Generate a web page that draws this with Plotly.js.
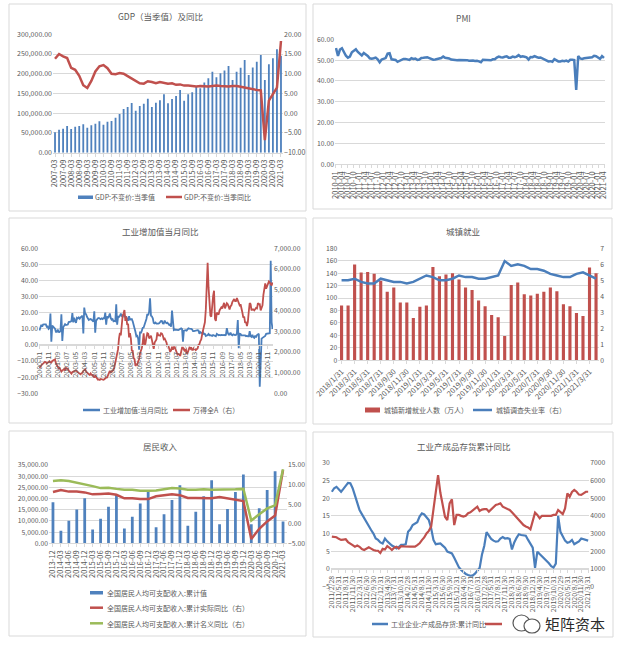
<!DOCTYPE html>
<html><head><meta charset="utf-8">
<script src="https://cdn.plot.ly/plotly-3.0.1.min.js"></script>
<style>html,body{margin:0;padding:0;background:#fff;}#chart{width:624px;height:649px;}</style>
</head><body><div id="chart"></div>
<script>
// ---------- Panel 1: GDP ----------
const gdpValue = [51600, 58400, 60900, 67600, 60000, 66000, 67600, 72000, 63500, 69400, 73600, 79500,
  71000, 78600, 80300, 88800, 98000, 110700, 115800, 126000, 106500, 118400, 124200, 136900,
  115800, 126700, 132800, 148000, 125000, 136000, 143700, 159000, 131800, 148000, 153000, 167000,
  163000, 178000, 188500, 205000, 191000, 201000, 208000, 219700, 184000, 205000, 215000, 235000,
  197000, 216000, 230600, 247600, 184000, 224000, 239000, 262000, 245800];
const gdpYoY = [13.8, 15.0, 14.4, 14.0, 11.5, 11.0, 9.5, 7.1, 6.4, 8.2, 10.6, 11.9,
  12.2, 11.4, 10.0, 9.9, 10.2, 10.0, 9.4, 8.8, 8.1, 7.6, 7.5, 8.1,
  7.9, 7.6, 7.9, 7.7, 7.5, 7.6, 7.2, 7.3, 7.0, 7.0, 6.9, 6.8,
  6.9, 6.8, 6.8, 6.9, 7.0, 6.9, 6.8, 6.8, 6.9, 6.9, 6.7, 6.5,
  6.3, 6.0, 5.9, 5.8, -6.8, 3.2, 4.9, 6.5, 18.3];

// ---------- Panel 2: PMI ----------
const pmi = [55.8, 52.0, 55.1, 55.7, 53.9, 52.1, 51.2, 51.7, 53.8, 54.7, 55.2, 53.9,
  52.9, 52.2, 53.4, 52.9, 52.0, 50.9, 50.7, 50.9, 51.2, 50.4, 49.0, 50.3,
  50.5, 51.0, 53.1, 53.3, 50.4, 50.2, 50.1, 49.2, 49.8, 50.2, 50.6, 50.6,
  50.4, 50.1, 50.9, 50.6, 50.8, 50.1, 50.3, 51.0, 51.1, 51.4, 51.4, 51.0,
  50.5, 50.2, 50.3, 50.4, 50.8, 51.0, 51.7, 51.1, 51.1, 50.8, 50.3, 50.1,
  49.8, 49.9, 50.1, 50.1, 50.2, 50.2, 50.0, 49.7, 49.8, 49.8, 49.6, 49.7,
  49.4, 49.0, 50.2, 50.1, 50.1, 50.0, 49.9, 50.4, 50.4, 51.2, 51.7, 51.4,
  51.3, 51.6, 51.8, 51.2, 51.2, 51.7, 51.4, 51.7, 52.4, 51.6, 51.8, 51.6,
  51.3, 50.3, 51.5, 51.4, 51.9, 51.5, 51.2, 51.3, 50.8, 50.2, 50.0, 49.4,
  49.5, 49.2, 50.5, 50.1, 49.4, 49.4, 49.7, 49.5, 49.8, 49.3, 50.2, 50.2,
  50.0, 35.7, 52.0, 50.8, 50.6, 50.9, 51.1, 51.0, 51.5, 51.4, 52.1, 51.9,
  51.3, 50.6, 51.9, 51.1];

// ---------- Panel 3: industrial value added vs Wind All A ----------
const ivaYoY = [
  9.0, 11.8, 12.5, 11.4, 12.7, 12.8, 12.8, 12.8, 11.3, 11.5, 10.0, 10.5,
  19.5, 2.0, 12.0, 11.5, 10.4, 10.1, 8.1, 8.1, 9.5, 8.1, 8.0, 8.7,
  19.0, 2.5, 10.9, 12.1, 12.9, 12.4, 12.8, 12.7, 14.2, 14.2, 14.5, 14.9,
  19.8, 14.0, 16.9, 14.9, 13.7, 16.9, 16.5, 17.1, 16.3, 17.2, 17.9, 18.1,
  7.2, 23.2, 19.4, 19.1, 17.5, 16.2, 15.5, 15.9, 16.1, 15.7, 14.8, 14.4,
  20.9, 7.6, 15.1, 16.0, 16.6, 16.8, 16.1, 16.0, 16.5, 16.1, 16.6, 16.5,
  20.1, 12.6, 17.8, 16.6, 17.9, 19.5, 16.7, 15.7, 16.1, 14.7, 14.9, 14.7,
  25.3, 12.6, 17.6, 17.4, 18.1, 19.4, 18.0, 17.5, 18.9, 17.9, 17.3, 17.4,
  15.4, 15.4, 17.8, 15.7, 16.0, 16.0, 14.7, 12.8, 11.4, 8.2, 5.4, 5.7,
  3.8, -2.9, 8.3, 7.3, 8.9, 10.7, 10.8, 12.3, 13.9, 16.1, 19.2, 18.5,
  20.7, 29.0, 18.1, 17.8, 16.5, 13.7, 13.4, 13.9, 13.3, 13.1, 13.3, 13.5,
  14.1, 14.9, 14.8, 13.4, 13.3, 15.1, 14.0, 13.5, 13.8, 13.2, 12.4, 12.8,
  11.4, 21.3, 11.9, 9.3, 9.6, 9.5, 9.2, 8.9, 9.2, 9.6, 10.1, 10.3,
  9.9, 2.0, 8.9, 9.3, 9.2, 8.9, 9.7, 10.4, 10.2, 10.3, 10.0, 9.7,
  8.6, 8.6, 8.8, 8.7, 8.8, 9.2, 9.0, 6.9, 8.0, 7.7, 7.2, 7.9,
  6.8, 6.8, 5.6, 5.9, 6.1, 6.8, 6.0, 6.1, 5.7, 5.6, 6.2, 5.9,
  5.4, 5.4, 6.8, 6.0, 6.0, 6.2, 6.0, 6.3, 6.1, 6.1, 6.2, 6.0,
  6.3, 10.5, 7.6, 6.5, 6.5, 7.6, 6.4, 6.0, 6.6, 6.2, 6.1, 6.2,
  7.2, 15.5, -2.0, 7.0, 6.8, 6.0, 6.0, 6.1, 5.8, 5.9, 5.4, 5.7,
  5.3, 5.3, 8.5, 5.4, 5.0, 6.3, 4.8, 4.4, 5.8, 4.7, 6.2, 6.9,
  6.9, -25.9, -1.1, 3.9, 4.4, 4.8, 4.8, 5.6, 6.9, 6.9, 7.0, 7.3,
  7.3, 52.3, 14.1, 9.8];
const windA = [
  1220, 1300, 1380, 1400, 1430, 1460, 1520, 1500, 1450, 1480, 1520, 1540,
  1500, 1480, 1560, 1580, 1620, 1640, 1450, 1380, 1280, 1200, 1230, 1130,
  1050, 1100, 1130, 1180, 1100, 1230, 1200, 1180, 1100, 1050, 1000, 950,
  1030, 1040, 1050, 1080, 1110, 1030, 1020, 980, 930, 920, 970, 990,
  1080, 1150, 1160, 1050, 1000, 930, 920, 890, 960, 890, 890, 830,
  760, 850, 760, 730, 660, 670, 650, 690, 680, 640, 650, 680,
  740, 760, 770, 870, 1020, 1080, 1010, 1040, 1100, 1130, 1270, 1510,
  1750, 1860, 2130, 2640, 2920, 2800, 3300, 3750, 3850, 4020, 3500, 3700,
  3300, 3350, 2700, 2900, 2650, 2060, 2050, 1700, 1650, 1320, 1400, 1380,
  1550, 1640, 1920, 2060, 2180, 2450, 2900, 2300, 2420, 2700, 2900, 2870,
  2650, 2720, 2780, 2580, 2310, 2150, 2450, 2560, 2600, 2940, 2800, 2800,
  2780, 2900, 2880, 2780, 2610, 2640, 2560, 2450, 2230, 2300, 2150, 2000,
  2070, 2250, 2100, 2230, 2230, 2080, 1960, 1870, 1900, 1880, 1800, 2080,
  2200, 2200, 2050, 2020, 2200, 1900, 1950, 2070, 2200, 2150, 2220, 2100,
  2100, 2180, 2100, 2080, 2130, 2160, 2330, 2380, 2520, 2600, 2850, 3100,
  3250, 3430, 4050, 5000, 6300, 5100, 4300, 3750, 3700, 4350, 4700, 4950,
  3600, 3500, 3900, 3850, 3800, 4000, 4050, 4150, 4100, 4200, 4370, 4100,
  4200, 4350, 4300, 4150, 4050, 4200, 4250, 4400, 4500, 4550, 4450, 4450,
  4600, 4450, 4400, 4250, 4300, 4000, 3900, 3650, 3700, 3400, 3450, 3250,
  3450, 3950, 4350, 4300, 4000, 4050, 4050, 4000, 4100, 4120, 4100, 4350,
  4300, 4300, 4000, 4200, 4250, 4750, 5150, 5300, 5050, 5150, 5300, 5400,
  5350, 5250, 5200, 5350];

// ---------- Panel 4: urban employment ----------
const empNew = [88, 88, 154, 141, 142, 139, 128, 110, 117, 93, 93, 68, 86, 88, 150, 135, 138, 140, 130, 117,
  113, 96, 87, 73, 69, 39, 121, 125, 106, 104, 107, 110, 117, 111, 90, 87, 76, 71, 149, 140];
const unempRate = [5.0, 5.0, 5.1, 4.9, 4.8, 4.8, 5.1, 5.0, 4.9, 4.9, 4.8, 4.9, 5.1, 5.3, 5.2, 5.0, 5.0, 5.1, 5.3, 5.2,
  5.2, 5.1, 5.1, 5.2, 5.3, 6.2, 5.9, 6.0, 5.9, 5.7, 5.7, 5.6, 5.4, 5.3, 5.2, 5.2, 5.4, 5.5, 5.3, 5.1];

// ---------- Panel 5: household income ----------
const incomeQuarters = ['2013-12', '2014-03', '2014-06', '2014-09', '2014-12', '2015-03', '2015-06', '2015-09', '2015-12',
  '2016-03', '2016-06', '2016-09', '2016-12', '2017-03', '2017-06', '2017-09', '2017-12', '2018-03', '2018-06', '2018-09',
  '2018-12', '2019-03', '2019-06', '2019-09', '2019-12', '2020-03', '2020-06', '2020-09', '2020-12', '2021-03'];
const incomeCum = [18311, 5562, 10049, 15053, 20167, 6116, 10931, 16367, 21966, 6619, 11886, 17735, 23821, 7184, 12932,
  19342, 25974, 7815, 14063, 21035, 28228, 8493, 15294, 22882, 30733, 8561, 15666, 23781, 32189, 9730];
const incomeRealYoY = [8.1, 8.6, 8.2, 8.2, 8.0, 7.5, 7.6, 7.7, 7.4, 6.5, 6.5, 6.3, 6.3, 7.0, 7.3, 7.5, 7.3, 6.6, 6.6, 6.6,
  6.5, 6.8, 6.5, 6.1, 5.8, -3.9, -1.3, 0.6, 2.1, 13.7];
const incomeNomYoY = [10.9, 11.1, 10.9, 10.5, 10.1, 9.6, 9.1, 9.2, 8.9, 8.7, 8.7, 8.4, 8.4, 8.5, 8.8, 9.1, 9.0, 8.7, 8.7, 8.8,
  8.7, 8.7, 8.8, 8.8, 8.9, 0.8, 2.4, 3.9, 4.7, 13.9];

// ---------- Panel 6: finished goods inventory ----------
const invYoY = [21.8, 22.8, 23.2, 22.6, 21.8, 22.6, 23.6, 24.3, 24.2, 22.8, 20.8, 18.5, 16.6, 15.5, 14.3, 13.3, 12.2, 11.0,
  10.0, 8.6, 8.2, 7.5, 7.2, 8.6, 7.8, 7.2, 6.6, 6.3, 5.8, 6.2, 6.8, 6.8, 7.0, 10.5, 11.2, 12.4, 12.8, 13.2, 14.8, 15.7,
  15.4, 14.6, 13.8, 11.5, 8.2, 7.0, 7.0, 7.2, 6.6, 6.0, 4.9, 4.6, 4.4, 3.2, 1.6, 0.5, -0.3, -1.0, -1.4, -1.7, -1.9, -1.8,
  -1.3, -0.5, 0.3, 4.0, 6.5, 10.4, 9.3, 8.5, 8.0, 7.7, 7.8, 8.6, 9.0, 8.6, 8.7, 8.5, 5.5, 7.5, 8.8, 9.8, 9.6, 9.6, 9.4,
  8.2, 7.0, 6.0, 0.3, 4.9, 4.2, 3.6, 2.8, 2.3, 1.6, 0.8, 0.4, 1.5, 15.0, 10.5, 9.0, 8.0, 7.4, 7.6, 8.2, 7.0, 7.4, 7.8,
  8.6, 8.4, 8.2, 8.0];
const invWindA = [2830, 2800, 2790, 2700, 2640, 2660, 2680, 2520, 2450, 2350, 2260, 2320, 2250, 2120, 2070, 2150, 2220,
  2150, 2070, 2040, 2030, 1900, 2140, 2100, 2290, 2200, 2070, 2200, 2260, 2160, 2290, 2280, 2260, 2250, 2260, 2270,
  2260, 2350, 2450, 2630, 2780, 3010, 3150, 3390, 4330, 5200, 6300, 5300, 4500, 3950, 3760, 4700, 4930, 3480, 4050,
  4050, 4000, 3960, 4000, 4150, 4200, 4290, 4400, 4520, 4270, 4350, 4380, 4380, 4240, 4350, 4500, 4610, 4650, 4700,
  4520, 4450, 4400, 4330, 4200, 4050, 3950, 3760, 3650, 3480, 3400, 3350, 3240, 3800, 4180, 4050, 3860, 4000, 4000,
  4000, 3960, 4000, 4050, 4050, 4330, 4240, 4100, 4420, 5270, 5080, 5350, 5460, 5360, 5200, 5180, 5270, 5360, 5360];

// ---------- category labels ----------
const pad = n => (n < 10 ? '0' : '') + n;
const monthEnd = (y, m) => new Date(y, m, 0).getDate();
const gdpQuarters = [];
for (let y = 2007; gdpQuarters.length < gdpValue.length; y++)
  for (const m of [3, 6, 9, 12]) if (gdpQuarters.length < gdpValue.length) gdpQuarters.push(y + '-' + pad(m));
const pmiMonths = [];
for (let y = 2010; pmiMonths.length < pmi.length; y++)
  for (let m = 1; m <= 12; m++) if (pmiMonths.length < pmi.length) pmiMonths.push(y + '-' + pad(m));
const ivaMonths = [];
for (let y = 2000; ivaMonths.length < ivaYoY.length; y++)
  for (let m = 1; m <= 12; m++) if (ivaMonths.length < ivaYoY.length) ivaMonths.push(y + '-' + pad(m));
const empDates = [];
for (let y = 2018; empDates.length < empNew.length; y++)
  for (let m = 1; m <= 12; m++) if (empDates.length < empNew.length) empDates.push(y + '/' + m + '/' + monthEnd(y, m));
const invDates = [];
for (let y = 2011; invDates.length < invYoY.length; y++)
  for (let m = 2; m <= 12; m++) if (invDates.length < invYoY.length) invDates.push(y + '/' + m + '/' + monthEnd(y, m));
const every = (arr, k) => arr.filter((_, i) => i % k === 0);

// ---------- styling ----------
const F = '"Noto Sans CJK SC", "Noto Sans", sans-serif';
const TC = '#595959', GRID = '#d9d9d9';
const BLUE = '#4f81bd', BLUEL = '#4a7ebb', RED = '#c0504d', GREEN = '#9bbb59';
const W = 624, H = 649;
const P = x => x / W, Q = y => 1 - y / H;
const tf = s => ({family: F, size: s, color: TC});

function xax(x0, x1, n, ticks, angle, extra) {
  return Object.assign({domain: [P(x0), P(x1)], type: 'category', range: [-0.5, n - 0.5],
    tickmode: 'array', tickvals: ticks, tickangle: angle, tickfont: tf(7.5), showgrid: false,
    showline: true, linecolor: GRID, linewidth: 1, ticks: 'outside', ticklen: 3, tickcolor: GRID,
    zeroline: false, fixedrange: true, automargin: false}, extra);
}
function yax(y0, y1, range, dtick, fmt, extra) {
  return Object.assign({domain: [Q(y1), Q(y0)], range, dtick, tick0: range[0], tickformat: fmt, tickfont: tf(6.8),
    showgrid: true, gridcolor: GRID, gridwidth: 1, zeroline: false, showline: false, ticks: '',
    fixedrange: true, automargin: false}, extra);
}
function yax2(over, anchor, range, dtick, fmt) {
  return {overlaying: over, anchor, side: 'right', range, dtick, tick0: range[0], tickformat: fmt,
    tickfont: tf(6.8), showgrid: false, zeroline: false, showline: false, ticks: '', fixedrange: true, automargin: false};
}

const traces = [
  {type: 'bar', x: gdpQuarters, y: gdpValue, xaxis: 'x', yaxis: 'y', marker: {color: BLUE}, width: 0.45, name: 'GDP:不变价:当季值'},
  {type: 'scatter', mode: 'lines', x: gdpQuarters, y: gdpYoY, xaxis: 'x', yaxis: 'y2', line: {color: RED, width: 2.5}, name: 'GDP:不变价:当季同比'},
  {type: 'scatter', mode: 'lines', x: pmiMonths, y: pmi, xaxis: 'x2', yaxis: 'y3', line: {color: BLUEL, width: 2.5}, name: 'PMI'},
  {type: 'scatter', mode: 'lines', x: ivaMonths, y: ivaYoY, xaxis: 'x3', yaxis: 'y4', line: {color: BLUEL, width: 1.8}, name: '工业增加值:当月同比'},
  {type: 'scatter', mode: 'lines', x: ivaMonths, y: windA, xaxis: 'x3', yaxis: 'y5', line: {color: RED, width: 1.8}, name: '万得全A（右）'},
  {type: 'bar', x: empDates, y: empNew, xaxis: 'x4', yaxis: 'y6', marker: {color: RED}, width: 0.48, name: '城镇新增就业人数（万人）'},
  {type: 'scatter', mode: 'lines', x: empDates, y: unempRate, xaxis: 'x4', yaxis: 'y7', line: {color: BLUEL, width: 2.5}, name: '城镇调查失业率（右）'},
  {type: 'bar', x: incomeQuarters, y: incomeCum, xaxis: 'x5', yaxis: 'y8', marker: {color: BLUE}, width: 0.35, name: '全国居民人均可支配收入:累计值'},
  {type: 'scatter', mode: 'lines', x: incomeQuarters, y: incomeRealYoY, xaxis: 'x5', yaxis: 'y9', line: {color: RED, width: 2.5}, name: '全国居民人均可支配收入:累计实际同比（右）'},
  {type: 'scatter', mode: 'lines', x: incomeQuarters, y: incomeNomYoY, xaxis: 'x5', yaxis: 'y9', line: {color: GREEN, width: 2.5}, name: '全国居民人均可支配收入:累计名义同比（右）'},
  {type: 'scatter', mode: 'lines', x: invDates, y: invYoY, xaxis: 'x6', yaxis: 'y10', line: {color: BLUEL, width: 2.2}, name: '工业企业:产成品存货:累计同比'},
  {type: 'scatter', mode: 'lines', x: invDates, y: invWindA, xaxis: 'x6', yaxis: 'y11', line: {color: RED, width: 2.2}, name: '万得全A（右）'}
];
traces.forEach(t => { t.showlegend = false; t.hoverinfo = 'skip'; });

// frames
const frames = [[9, 4, 306, 211], [313, 4, 612, 209], [9, 218, 306, 423], [313, 218, 612, 424], [9, 431, 306, 636], [313, 432, 613, 637]];
const shapes = frames.map(f => ({type: 'rect', xref: 'paper', yref: 'paper', x0: P(f[0]), x1: P(f[2]), y0: Q(f[3]), y1: Q(f[1]),
  line: {color: GRID, width: 1}, fillcolor: 'rgba(0,0,0,0)', layer: 'below'}));
const keyLine = (x0, x1, y, color) => ({type: 'line', xref: 'paper', yref: 'paper', x0: P(x0), x1: P(x1), y0: Q(y), y1: Q(y), line: {color, width: 2.5}});
const keyBox = (x0, x1, y0, y1, color) => ({type: 'rect', xref: 'paper', yref: 'paper', x0: P(x0), x1: P(x1), y0: Q(y1), y1: Q(y0), fillcolor: color, line: {width: 0}});
shapes.push(
  keyBox(78, 93, 195.5, 199, BLUE), keyLine(166, 182, 197, RED),
  keyLine(83, 100, 410, BLUEL), keyLine(173, 190, 410, RED),
  keyBox(365, 380, 407.5, 412.5, RED), keyLine(473, 492, 410, BLUEL),
  keyBox(90, 103, 591, 594.5, BLUE), keyLine(90, 103, 607.7, RED), keyLine(90, 103, 623.3, GREEN),
  keyLine(372, 388, 624, BLUEL), keyLine(485, 502, 624, RED),
  // watermark icon
  {type: 'circle', xref: 'paper', yref: 'paper', x0: P(513), x1: P(530), y0: Q(631), y1: Q(615), line: {color: '#555', width: 1.2}, fillcolor: '#fff'},
  {type: 'circle', xref: 'paper', yref: 'paper', x0: P(524), x1: P(540), y0: Q(633), y1: Q(619), line: {color: '#555', width: 1.2}, fillcolor: '#fff'}
);

const txt = (x, y, text, size, anchor, color) => ({xref: 'paper', yref: 'paper', x: P(x), y: Q(y), text, showarrow: false,
  xanchor: anchor || 'left', yanchor: 'middle', font: {family: F, size, color: color || TC}, borderpad: 0});
const annotations = [
  txt(160, 16, 'GDP（当季值）及同比', 8.5, 'center'),
  txt(463, 18, 'PMI', 8.5, 'center'),
  txt(160, 231, '工业增加值当月同比', 8.5, 'center'),
  txt(463, 231, '城镇就业', 8.5, 'center'),
  txt(160, 446, '居民收入', 8.5, 'center'),
  txt(464, 446, '工业产成品存货累计同比', 8.5, 'center'),
  txt(94, 197, traces[0].name, 7),
  txt(183, 197, traces[1].name, 7),
  txt(102, 410, traces[3].name, 7),
  txt(192, 410, traces[4].name, 7),
  txt(383, 410, traces[5].name, 7),
  txt(495, 410, traces[6].name, 7),
  txt(106, 593, traces[7].name, 7),
  txt(106, 608, traces[8].name, 7),
  txt(106, 623.5, traces[9].name, 7),
  txt(390, 624, traces[10].name, 7),
  txt(544, 623, '矩阵资本', 15, 'left', '#2b2b2b')
];

const layout = {
  width: W, height: H, margin: {l: 0, r: 0, t: 0, b: 0}, autosize: false,
  paper_bgcolor: '#fff', plot_bgcolor: 'rgba(0,0,0,0)', showlegend: false, font: {family: F, color: TC},
  xaxis: xax(53, 283, gdpQuarters.length, every(gdpQuarters, 2), -90, {anchor: 'y'}),
  yaxis: yax(34.3, 152.7, [0, 300000], 50000, ',.2f', {anchor: 'x', tickfont: tf(7)}),
  yaxis2: Object.assign(yax2('y', 'x', [-10, 20], 5, '.2f'), {tickfont: tf(7)}),
  xaxis2: xax(335, 605, pmiMonths.length, every(pmiMonths, 3), -90, {anchor: 'y3'}),
  yaxis3: yax(39.3, 164.3, [0, 60], 10, '.2f', {anchor: 'x2'}),
  xaxis3: xax(39, 273, ivaMonths.length, every(ivaMonths, 10), -90, {anchor: 'free', position: Q(345), tickfont: tf(7)}),
  yaxis4: yax(248.3, 393.3, [-30, 60], 10, '.2f', {anchor: 'x3'}),
  yaxis5: yax2('y4', 'x3', [0, 7000], 1000, ',.2f'),
  xaxis4: xax(338.3, 599.3, empDates.length, every(empDates, 2), -45, {anchor: 'y6'}),
  yaxis6: yax(248.3, 360.3, [0, 180], 20, 'd', {anchor: 'x4'}),
  yaxis7: yax2('y6', 'x4', [0, 7], 1, 'd'),
  xaxis5: xax(49, 287, incomeQuarters.length, incomeQuarters, -90, {anchor: 'y8'}),
  yaxis8: yax(465, 543.3, [0, 35000], 5000, ',.2f', {anchor: 'x5'}),
  yaxis9: yax2('y8', 'x5', [-5, 15], 5, '.2f'),
  xaxis6: xax(330.7, 589.3, invDates.length, every(invDates, 3), -90, {anchor: 'free', position: Q(569), tickfont: tf(7)}),
  yaxis10: yax(462.7, 586.7, [-5, 30], 5, 'd', {anchor: 'x6'}),
  yaxis11: yax2('y10', 'x6', [0, 7000], 1000, 'd'),
  shapes, annotations
};

Plotly.newPlot('chart', traces, layout, {staticPlot: true, displayModeBar: false});
</script></body></html>
